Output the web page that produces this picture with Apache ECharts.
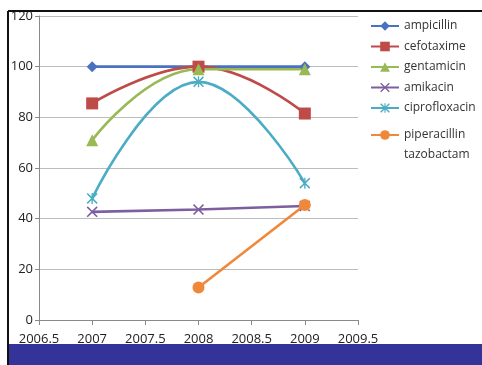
<!DOCTYPE html>
<html><head><meta charset="utf-8">
<script src="https://cdn.jsdelivr.net/npm/echarts@6/dist/echarts.min.js"></script>
<style>html,body{margin:0;padding:0;background:#fff}#c{width:482px;height:365px}</style>
</head><body><div id="c"></div>
<script>
const years = [2007, 2008, 2009];
const ampicillin = [100, 100, 100];
const cefotaxime = [85.5, 100, 81.5];
const gentamicin = [71, 99, 99];
const amikacin = [42.7, 43.6, 45];
const ciprofloxacin = [48, 94, 54];
const piperacillinTazobactam = [null, 12.8, 45.4];
const xTicks = [2006.5, 2007, 2007.5, 2008, 2008.5, 2009, 2009.5];
const yTicks = [0, 20, 40, 60, 80, 100, 120];
const legendNames = ['ampicillin','cefotaxime','gentamicin','amikacin','ciprofloxacin','piperacillin tazobactam'];

const xPath = 'path://M0,1L1,0L5,4L9,0L10,1L6,5L10,9L9,10L5,6L1,10L0,9L4,5Z';
const starPath = 'path://M0,1L1,0L5,4L9,0L10,1L6,5L10,9L9,10L5,6L1,10L0,9L4,5Z M4.4,0L5.6,0L5.6,10L4.4,10Z';

function pts(vals){ return years.map((y,i)=>[y, vals[i]]); }

const font = 'Open Sans, Lato, sans-serif';
const chart = echarts.init(document.getElementById('c'), null, {renderer:'canvas'});
const mk = (name, vals, color, symbol, size, smooth) => ({
  name, type:'line', data: pts(vals), smooth: smooth, smoothMonotone: null,
  symbol, symbolSize: size, showSymbol: true, connectNulls: false,
  lineStyle:{color, width:2.6}, itemStyle:{color}, emphasis:{disabled:true}
});
const legendText = {color:'#333', fontSize:12, fontFamily:font,
  rich:{p:{color:'#333', fontSize:12, fontFamily:font, lineHeight:20},
        s:{fontSize:12, lineHeight:20}}};
chart.setOption({
  animation:false,
  backgroundColor:'#fff',
  grid:{left:39, right:124, top:16, bottom:45, containLabel:false},
  xAxis:{type:'value', min:xTicks[0], max:xTicks[xTicks.length-1], interval:0.5,
    axisLine:{show:true, lineStyle:{color:'#8a8a8a', width:1}},
    axisTick:{show:true, length:5, lineStyle:{color:'#8a8a8a'}},
    splitLine:{show:false},
    axisLabel:{color:'#222', fontSize:13, fontFamily:font, margin:13,
      formatter:v=>String(v)}},
  yAxis:{type:'value', min:yTicks[0], max:yTicks[yTicks.length-1], interval:20,
    axisLine:{show:true, lineStyle:{color:'#8a8a8a', width:1}},
    axisTick:{show:true, length:4, lineStyle:{color:'#8a8a8a'}},
    splitLine:{show:true, lineStyle:{color:'#bdbdbd', width:1}},
    axisLabel:{color:'#222', fontSize:13, fontFamily:font, margin:6}},
  legend:[
    {orient:'vertical', left:365, top:15, itemWidth:28, itemHeight:12, itemGap:8.5,
      textStyle:legendText, data:legendNames.slice(0,5)},
    {orient:'vertical', left:365, top:104, itemWidth:28, itemHeight:12,
      textStyle:legendText,
      formatter: n => '{s| }\n' + n.split(' ').map(w => '{p|' + w + '}').join('\n'),
      data:legendNames.slice(5)}
  ],
  series:[
    mk(legendNames[0], ampicillin, '#4a72c0', 'diamond', 11, false),
    mk(legendNames[1], cefotaxime, '#be4b48', 'rect', 12, 0.45),
    mk(legendNames[2], gentamicin, '#98b954', 'triangle', 12, 0.45),
    mk(legendNames[3], amikacin, '#7d5fa0', xPath, 11, false),
    mk(legendNames[4], ciprofloxacin, '#4aacc5', starPath, 11, 0.45),
    mk(legendNames[5], piperacillinTazobactam, '#f0883a', 'circle', 12, false)
  ],
  graphic:[
    {type:'rect', z:100, shape:{x:9, y:344, width:473, height:21}, style:{fill:'#333399'}},
    {type:'line', z:100, shape:{x1:8, y1:11, x2:8, y2:365}, style:{stroke:'#111', lineWidth:2}},
    {type:'line', z:100, shape:{x1:8, y1:11, x2:482, y2:11}, style:{stroke:'#111', lineWidth:2}}
  ]
});
</script></body></html>
